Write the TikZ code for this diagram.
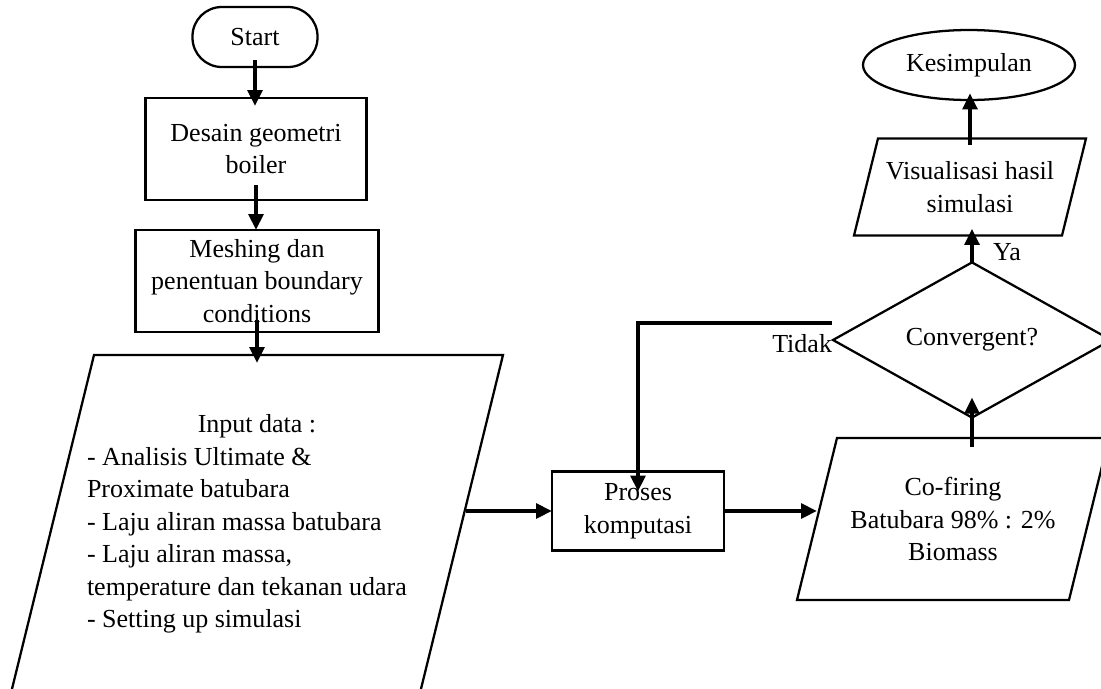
\documentclass[tikz,border=0pt]{standalone}
\usepackage{fontspec}
\setmainfont{Liberation Serif}
\usetikzlibrary{shapes.geometric,arrows.meta,calc}
\newcommand\pgram[2]{%
  \draw[box] ($(#1.north west)+(#2,0)$) -- ($(#1.north east)+(#2,0)$)
    -- ($(#1.south east)-(#2,0)$) -- ($(#1.south west)-(#2,0)$) -- cycle;}
\begin{document}
\begin{tikzpicture}[x=0.75pt,y=-0.75pt,
  every node/.style={font=\fontsize{19.5}{24.4}\selectfont, inner sep=2pt, outer sep=0pt, align=center},
  box/.style={draw, line width=1.7pt},
  arr/.style={line width=2.8pt, -{Triangle[length=12pt,width=11pt]}}]
\useasboundingbox (0,0) rectangle (1101,689);
\clip (0,0) rectangle (1101,689);

\node[box, rounded corners=22pt, minimum width={125*0.75pt}, minimum height={60*0.75pt}] (start) at (255,37) {Start};
\node[box, minimum width={221*0.75pt}, minimum height={102*0.75pt}] (desain) at (256,149) {Desain geometri\\boiler};
\node[box, minimum width={243*0.75pt}, minimum height={102*0.75pt}] (mesh) at (257,281) {Meshing dan\\penentuan boundary\\conditions};

\node[minimum width={409*0.75pt}, minimum height={338*0.75pt}, text width={340*0.75pt}, align=flush left] (input) at (257,524)
  {\makebox[\linewidth]{Input data :}\\- Analisis Ultimate \&\\Proximate batubara\\- Laju aliran massa batubara\\- Laju aliran massa,\\temperature dan tekanan udara\\- Setting up simulasi};
\pgram{input}{41.5}

\node[box, minimum width={172*0.75pt}, minimum height={79*0.75pt}] (proses) at (638,511) {Proses\\komputasi};

\node[minimum width={272*0.75pt}, minimum height={162*0.75pt}] (cof) at (953,519) {Co-firing\\Batubara 98\% : 2\%\\Biomass};
\pgram{cof}{20}

\node[box, diamond, minimum width={278*0.75pt}, minimum height={134*0.75pt}, inner sep=0pt] (conv) at (972,340) {Convergent?};

\node[minimum width={208*0.75pt}, minimum height={97*0.75pt}] (vis) at (970,187) {Visualisasi hasil\\simulasi};
\pgram{vis}{12}

\node[box, ellipse, minimum width={212*0.75pt}, minimum height={70*0.75pt}, inner sep=0pt] (kes) at (969,65) {Kesimpulan};

\node[anchor=east, inner sep=0pt] (tidak) at (832,344) {Tidak};
\node (ya) at (1007,252) {Ya};
\coordinate (fb) at (832,323);

\draw[arr, shorten <=-5pt, shorten >=-6pt] (start.south) -- (start.south |- desain.north);
\draw[arr, shorten <=-11pt] (desain.south) -- (desain.south |- mesh.north);
\draw[arr, shorten <=-9pt, shorten >=-6pt] (mesh.south) -- (mesh.south |- input.north);
\draw[arr, shorten <=3pt] (input.east |- proses.west) -- (proses.west);
\draw[arr] (proses.east) -- (proses.east -| cof.west);
\draw[arr, shorten <=-7pt, shorten >=-15pt] (cof.north -| conv.south) -- (conv.south);
\draw[arr, shorten >=-5pt] (conv.north) -- (conv.north |- vis.south);
\draw[arr, shorten <=-5pt, shorten >=-5pt] (vis.north) -- (vis.north |- kes.south);
\draw[arr, shorten >=-15pt] (fb) -| (proses.north);
\end{tikzpicture}
\end{document}
